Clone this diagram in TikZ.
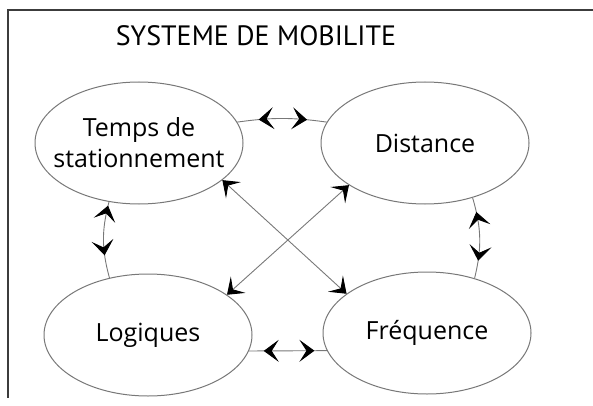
\documentclass[tikz,border=0pt]{standalone}
\usepackage{fontspec}
\setmainfont{Open Sans}
\newfontfamily\titrefont{PT Sans}
\usetikzlibrary{shapes,arrows.meta,positioning,decorations.markings}
\definecolor{trait}{RGB}{120, 120, 120}
\definecolor{cadre}{RGB}{60, 60, 60}
\tikzset{
  pointe/.tip={Stealth[length=15pt, width=22pt, inset=7pt, black]},
  bulle/.style={ellipse, draw=trait, line width=1pt, minimum width=208pt, minimum height=122pt, inner xsep=-14pt, align=center, font=\fontsize{25}{31}\selectfont},
  lien/.style={draw=trait, line width=0.9pt},
  fleche/.style 2 args={decoration={markings, mark=at position #1 with {\arrowreversed{pointe}}, mark=at position #2 with {\arrow{pointe}}}, postaction={decorate}}
}

\begin{document}
\begin{tikzpicture}[x=1pt, y=1pt, node distance=286pt]
  \useasboundingbox (0,0) rectangle (593,405);
  % Cadre
  \draw[cadre, line width=1.3pt] (593,395) -- (8,395) -- (8,7);
  \node[font=\titrefont\fontsize{28}{32}\selectfont] (titre) at (256,369) {SYSTEME DE MOBILITE};

  % Les quatre ellipses
  \node[bulle] (temps) at (139,262) {Temps de\\stationnement};
  \node[bulle, right of=temps] (dist) {Distance};
  \node[bulle, below of=temps, node distance=192pt, xshift=9pt] (logi) {Logiques};
  \node[bulle, right of=logi, node distance=279pt, yshift=2pt] (freq) {Fréquence};

  % Flèches entre voisins
  \path[lien, fleche={0.24}{0.78}] (temps.12) to[bend left=8] (dist.168);
  \path[lien, fleche={0.05}{0.7}] (temps.-117) to[bend right=15] (logi.124);
  \path[lien, fleche={0.18}{0.78}] (dist.-49) to[bend left=15] (freq.49);
  \path[lien, fleche={0.19}{0.84}] (logi.-9) -- (freq.190);

  % Flèches en croix
  \draw[lien, {pointe}-{pointe}] (temps.-24) -- (freq.154);
  \draw[lien, {pointe}-{pointe}] (logi.27) -- (dist.-151);
\end{tikzpicture}
\end{document}
